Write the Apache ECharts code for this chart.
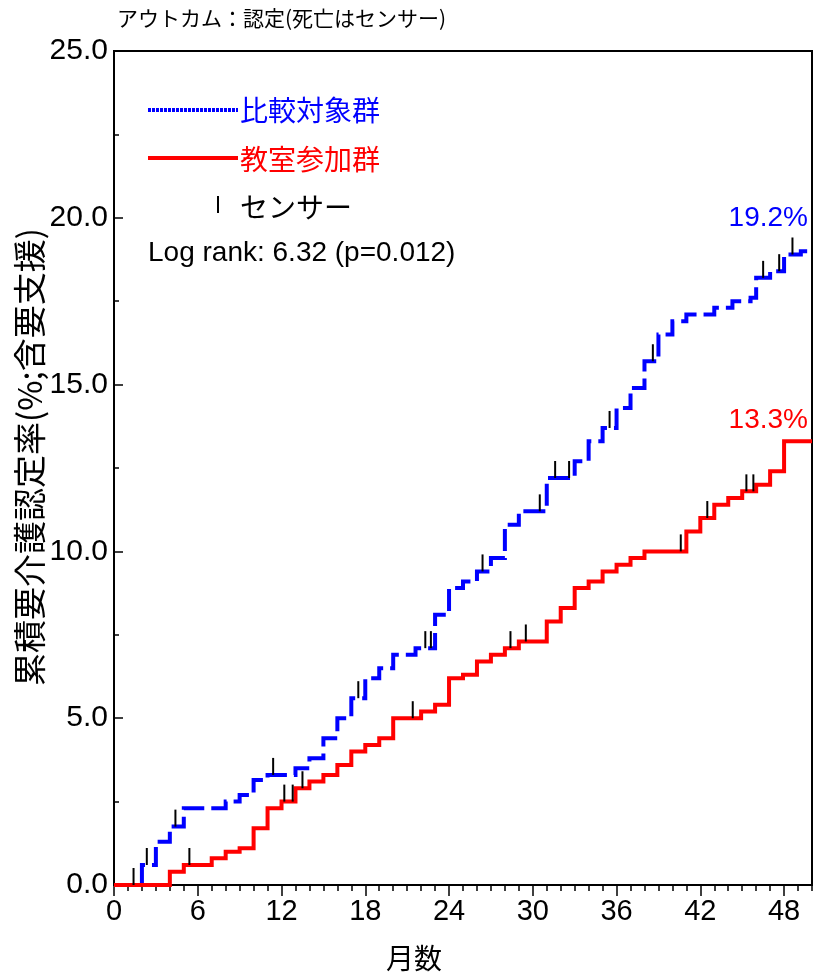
<!DOCTYPE html>
<html>
<head>
<meta charset="utf-8">
<script src="https://cdn.jsdelivr.net/npm/echarts@6/dist/echarts.min.js"></script>
<style>
html,body{margin:0;padding:0;background:#fff;}
#chart{width:815px;height:975px;}
</style>
</head>
<body>
<div id="chart"></div>
<script>
// ---- data ----
const xTicks = [0, 6, 12, 18, 24, 30, 36, 42, 48];
const yTicks = [0, 5, 10, 15, 20, 25];

const monthsControl = [0, 2, 3, 4, 5, 8, 9, 10, 11, 13, 14, 15, 16, 17, 18, 19, 20, 21.6, 23, 24, 25, 26, 27, 28, 29, 31, 33, 34, 35, 36, 37, 38, 39, 40, 41, 43, 44.3, 45.6, 46, 47, 48, 49.2, 50];
const pctControl   = [0, 0.6, 1.3, 1.75, 2.3, 2.5, 2.7, 3.15, 3.3, 3.5, 3.8, 4.4, 5.0, 5.6, 6.2, 6.5, 6.9, 7.1, 8.1, 8.9, 9.1, 9.4, 9.8, 10.8, 11.2, 12.2, 12.7, 13.3, 13.7, 14.3, 14.9, 15.7, 16.5, 16.9, 17.1, 17.3, 17.5, 17.6, 18.2, 18.4, 18.9, 19.0, 19.0];

const monthsClass = [0, 4, 5, 7, 8, 9, 10, 11, 12, 13, 14, 15, 16, 17, 18, 19, 20, 22, 23, 24, 25, 26, 27, 28, 29, 31, 32, 33, 34, 35, 36, 37, 38, 41, 42, 43, 44, 45, 46, 47, 48, 50];
const pctClass   = [0, 0.4, 0.6, 0.8, 1.0, 1.1, 1.7, 2.3, 2.5, 2.9, 3.1, 3.3, 3.6, 4.0, 4.2, 4.4, 5.0, 5.2, 5.4, 6.2, 6.3, 6.7, 6.9, 7.1, 7.3, 7.9, 8.3, 8.9, 9.1, 9.4, 9.6, 9.8, 10.0, 10.6, 11.0, 11.4, 11.6, 11.8, 12.0, 12.4, 13.3, 13.3];

const censorControl = [1.4, 2.35, 4.4, 11.4, 17.5, 22.3, 22.7, 26.4, 30.5, 31.6, 32.6, 35.5, 38.6, 46.5, 47.65, 48.6];
const censorClass   = [5.4, 12.2, 12.8, 13.5, 21.4, 28.4, 29.5, 40.6, 42.5, 45.3, 45.8];

const nameControl = '比較対象群';
const nameClass = '教室参加群';
const nameCensor = 'センサー';
const finalControl = '19.2%';
const finalClass = '13.3%';
const titleText = 'アウトカム：認定(死亡はセンサー)';
const statText = 'Log rank: 6.32 (p=0.012)';
const xName = '月数';
const yName = '累積要介護認定率(%;含要支援)';

// ---- helpers ----
function pairs(xs, ys) { return xs.map((x, i) => [x, ys[i]]); }
function valueAt(xs, ys, t) {
  let v = ys[0];
  for (let i = 0; i < xs.length; i++) { if (xs[i] <= t) v = ys[i]; }
  return v;
}
function censorPts(times, xs, ys) { return times.map(t => [t, valueAt(xs, ys, t)]); }

const BLUE = '#0000ff', RED = '#ff0000';
const SANS = "'Liberation Sans',Arial,sans-serif";
const CJK = "'Noto Sans CJK JP','Noto Sans CJK SC',sans-serif";

const chart = echarts.init(document.getElementById('chart'), null, {renderer: 'canvas'});

const option = {
  animation: false,
  backgroundColor: '#fff',
  grid: {left: 114, right: 3, top: 51, bottom: 90, containLabel: false, outerBoundsMode: 'none',
    show: true, borderColor: '#000', borderWidth: 2, backgroundColor: 'transparent'},
  xAxis: [{
    type: 'value', min: 0, max: 50, interval: 6,
    axisLine: {show: true, onZero: false, lineStyle: {color: '#000', width: 2}},
    axisTick: {show: true, inside: false, length: 11, lineStyle: {color: '#000', width: 1.5}},
    axisLabel: {color: '#000', fontSize: 29, fontFamily: SANS, margin: 12, showMaxLabel: false,
      formatter: v => (xTicks.indexOf(v) >= 0 ? String(v) : '')},
    splitLine: {show: false}
  }, {
    type: 'value', min: 0, max: 50, interval: 1, position: 'bottom',
    axisLine: {show: false},
    axisTick: {show: true, inside: false, length: 6, lineStyle: {color: '#000', width: 1.5}},
    axisLabel: {show: false}, splitLine: {show: false}
  }],
  yAxis: {
    type: 'value', min: 0, max: 25, interval: 5,
    axisLine: {show: true, onZero: false, lineStyle: {color: '#000', width: 2}},
    axisTick: {show: true, inside: true, length: 9, lineStyle: {color: '#000', width: 1.5}},
    minorTick: {show: true, splitNumber: 2, length: 5, lineStyle: {color: '#000', width: 1.5}},
    axisLabel: {color: '#000', fontSize: 30, fontFamily: SANS, margin: 6,
      formatter: v => (yTicks.indexOf(v) >= 0 ? v.toFixed(1) : '')},
    splitLine: {show: false}
  },
  series: [
    {
      name: nameControl, type: 'line', step: 'end', showSymbol: false, symbol: 'none',
      data: pairs(monthsControl, pctControl), z: 2,
      lineStyle: {color: BLUE, width: 4, type: [22, 7], cap: 'butt', join: 'miter'}
    },
    {
      name: nameClass, type: 'line', step: 'end', showSymbol: false, symbol: 'none',
      data: pairs(monthsClass, pctClass), z: 3,
      lineStyle: {color: RED, width: 4, join: 'miter'}
    },
    {
      name: nameCensor, type: 'scatter', z: 4,
      data: censorPts(censorControl, monthsControl, pctControl).concat(censorPts(censorClass, monthsClass, pctClass)),
      symbol: 'rect', symbolSize: [2, 17], symbolOffset: [0, '-50%'],
      itemStyle: {color: '#000', opacity: 1}
    }
  ],
  graphic: [
    {type: 'text', left: 117, top: 8, style: {text: titleText, fontSize: 21, fontFamily: CJK, fill: '#000'}},
    {type: 'text', x: 414, y: 958, style: {text: xName, fontSize: 28, fontFamily: CJK, fill: '#000', align: 'center', verticalAlign: 'middle'}},
    {type: 'text', x: 29, y: 457, rotation: Math.PI / 2, style: {text: yName, fontSize: 33, fontFamily: CJK, fill: '#000', align: 'center', verticalAlign: 'middle'}},
    {type: 'line', shape: {x1: 148, y1: 110, x2: 238, y2: 110}, style: {stroke: BLUE, lineWidth: 4, lineDash: [3, 1]}},
    {type: 'text', x: 240, y: 110, style: {text: nameControl, fontSize: 28, fontFamily: CJK, fill: BLUE, verticalAlign: 'middle'}},
    {type: 'line', shape: {x1: 148, y1: 158, x2: 238, y2: 158}, style: {stroke: RED, lineWidth: 4}},
    {type: 'text', x: 240, y: 159, style: {text: nameClass, fontSize: 28, fontFamily: CJK, fill: RED, verticalAlign: 'middle'}},
    {type: 'rect', shape: {x: 217, y: 196, width: 2, height: 17}, style: {fill: '#000'}},
    {type: 'text', x: 240, y: 207, style: {text: nameCensor, fontSize: 28, fontFamily: CJK, fill: '#000', verticalAlign: 'middle'}},
    {type: 'text', x: 148, y: 253, style: {text: statText, fontSize: 28, fontFamily: SANS, fill: '#000', verticalAlign: 'middle'}},
    {type: 'text', x: 808, y: 218, style: {text: finalControl, fontSize: 28, fontFamily: SANS, fill: BLUE, align: 'right', verticalAlign: 'middle'}},
    {type: 'text', x: 808, y: 420, style: {text: finalClass, fontSize: 28, fontFamily: SANS, fill: RED, align: 'right', verticalAlign: 'middle'}}
  ]
};
chart.setOption(option);
</script>
</body>
</html>
